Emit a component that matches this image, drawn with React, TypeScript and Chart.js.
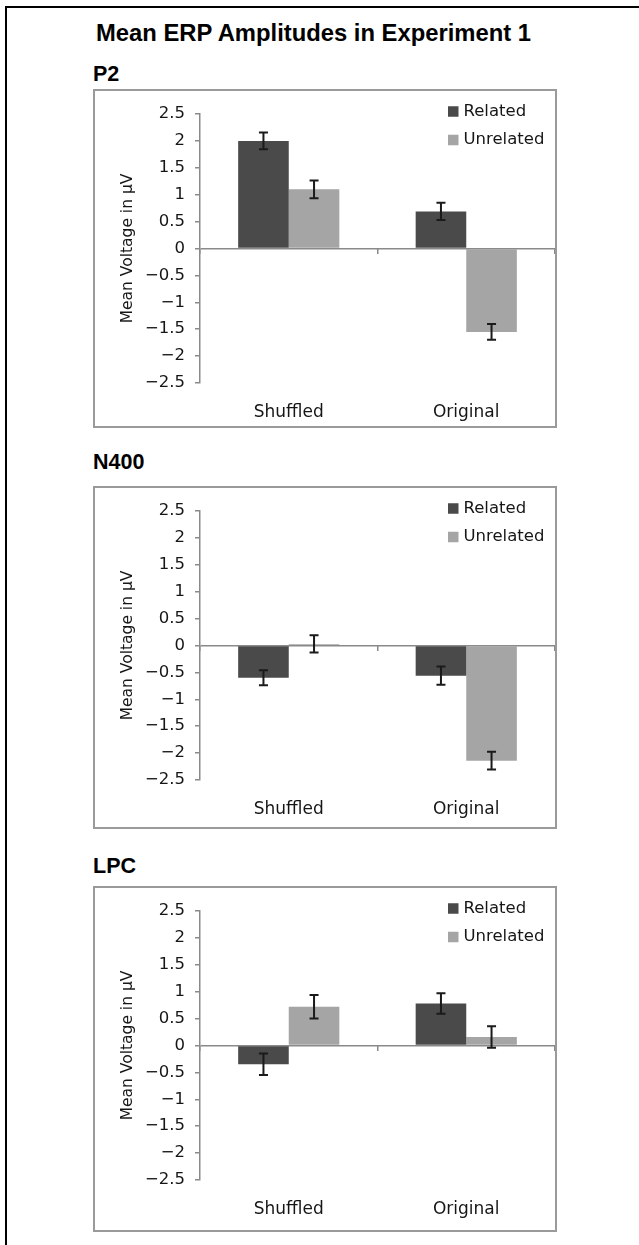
import React, { useEffect, useRef } from 'react';
import { Chart, registerables } from 'chart.js';

Chart.register(...registerables);

// ---------- data ----------
const mainTitle = 'Mean ERP Amplitudes in Experiment 1';
const panelNames = ['P2', 'N400', 'LPC'];
const categories = ['Shuffled', 'Original'];
const seriesNames = ['Related', 'Unrelated'];
const yAxisTitle = 'Mean Voltage in µV';
const yMin = -2.5;
const yMax = 2.5;
const yStep = 0.5;

const p2Related = [2.0, 0.69];
const p2RelatedErr = [0.155, 0.16];
const p2Unrelated = [1.1, -1.55];
const p2UnrelatedErr = [0.165, 0.145];

const n400Related = [-0.6, -0.56];
const n400RelatedErr = [0.14, 0.17];
const n400Unrelated = [0.03, -2.14];
const n400UnrelatedErr = [0.16, 0.165];

const lpcRelated = [-0.35, 0.78];
const lpcRelatedErr = [0.2, 0.19];
const lpcUnrelated = [0.72, 0.16];
const lpcUnrelatedErr = [0.22, 0.2];

// ---------- styles ----------
const seriesColors = ['#4a4a4a', '#a5a5a5'];
const axisGray = '#8a8a8a';
const textColor = '#161616';
const tickFont = { family: '"DejaVu Sans", Verdana, sans-serif', size: 16.5 };

const fmtTick = (v: number) => {
  if (v === 0) return '0';
  const s = String(Math.abs(v));
  return v < 0 ? '\u2212' + s : s;
};

const errorBarPlugin = {
  id: 'errorBars',
  afterDatasetsDraw(chart: any) {
    const { ctx } = chart;
    const y = chart.scales.y;
    chart.data.datasets.forEach((ds: any, i: number) => {
      const meta = chart.getDatasetMeta(i);
      meta.data.forEach((bar: any, j: number) => {
        const v = ds.data[j];
        const e = ds.errors[j];
        const yTop = y.getPixelForValue(v + e);
        const yBot = y.getPixelForValue(v - e);
        ctx.save();
        ctx.strokeStyle = '#1a1a1a';
        ctx.lineWidth = 2;
        ctx.beginPath();
        ctx.moveTo(bar.x, yTop);
        ctx.lineTo(bar.x, yBot);
        ctx.moveTo(bar.x - 4.5, yTop);
        ctx.lineTo(bar.x + 4.5, yTop);
        ctx.moveTo(bar.x - 4.5, yBot);
        ctx.lineTo(bar.x + 4.5, yBot);
        ctx.stroke();
        ctx.restore();
      });
    });
  },
};

const insideLegendPlugin = {
  id: 'insideLegend',
  afterDraw(chart: any) {
    const { ctx } = chart;
    chart.data.datasets.forEach((ds: any, i: number) => {
      const rowY = 22.5 + i * 28.5;
      ctx.save();
      ctx.fillStyle = ds.backgroundColor;
      ctx.fillRect(355, rowY - 5.25, 10.5, 10.5);
      ctx.fillStyle = textColor;
      ctx.font = `${tickFont.size}px ${tickFont.family}`;
      ctx.textBaseline = 'middle';
      ctx.textAlign = 'left';
      ctx.fillText(ds.label, 370.5, rowY);
      ctx.restore();
    });
  },
};

const PANEL_LEFT = 93;
const PANEL_WIDTH = 464;
const AREA_TOP = 25;
const AREA_HEIGHT = 269;

type PanelProps = {
  top: number;
  height: number;
  related: number[];
  relatedErr: number[];
  unrelated: number[];
  unrelatedErr: number[];
};

function Panel({ top, height, related, relatedErr, unrelated, unrelatedErr }: PanelProps) {
  const ref = useRef<HTMLCanvasElement>(null);
  useEffect(() => {
    if (!ref.current) return;
    const chart = new Chart(ref.current, {
      type: 'bar',
      data: {
        labels: categories,
        datasets: [
          { label: seriesNames[0], data: related, backgroundColor: seriesColors[0], errors: relatedErr } as any,
          { label: seriesNames[1], data: unrelated, backgroundColor: seriesColors[1], errors: unrelatedErr } as any,
        ],
      },
      options: {
        responsive: false,
        animation: false,
        devicePixelRatio: 1,
        layout: { padding: { top: AREA_TOP, right: 2, left: 0, bottom: 0 } },
        datasets: { bar: { categoryPercentage: 0.57, barPercentage: 1 } },
        plugins: { legend: { display: false }, tooltip: { enabled: false } },
        scales: {
          x: {
            type: 'category',
            position: 'bottom',
            grid: { display: false, drawTicks: false },
            border: { display: false },
            ticks: { padding: 19, font: { ...tickFont, size: 17 }, color: textColor },
            afterFit: (s: any) => {
              s.height = height - AREA_TOP - AREA_HEIGHT;
            },
          },
          x2: {
            type: 'category',
            axis: 'x',
            labels: categories,
            position: { y: 0 },
            offset: true,
            grid: { offset: true, drawOnChartArea: false, drawTicks: true, tickLength: 5, color: axisGray, lineWidth: 1.5 },
            border: { display: false },
            ticks: { display: false },
          },
          y: {
            min: yMin,
            max: yMax,
            ticks: { stepSize: yStep, padding: 10, font: tickFont, color: textColor, callback: (v: any) => fmtTick(Number(v)) },
            grid: {
              color: (c: any) => (c.tick && c.tick.value === 0 ? axisGray : 'rgba(0,0,0,0)'),
              tickColor: axisGray,
              tickLength: 5,
              lineWidth: 1.5,
            },
            border: { display: true, color: axisGray, width: 1.5 },
            title: {
              display: true,
              text: yAxisTitle,
              color: textColor,
              font: { family: tickFont.family, size: 15.5 },
              padding: { top: 26, bottom: 0 },
            },
            afterFit: (s: any) => {
              s.width = 107;
            },
          },
        } as any,
      },
      plugins: [errorBarPlugin, insideLegendPlugin],
    });
    return () => chart.destroy();
  }, []);
  return (
    <>
      <canvas
        ref={ref}
        width={PANEL_WIDTH}
        height={height}
        style={{ position: 'absolute', left: PANEL_LEFT, top, width: PANEL_WIDTH, height }}
      />
      <div
        style={{
          position: 'absolute',
          left: PANEL_LEFT,
          top,
          width: PANEL_WIDTH,
          height,
          boxSizing: 'border-box',
          border: '2px solid #9a9a9a',
          pointerEvents: 'none',
        }}
      />
    </>
  );
}

const headFont = '"Liberation Sans", Arial, sans-serif';

export default function App() {
  const sectionStyle = (top: number): React.CSSProperties => ({
    position: 'absolute',
    left: 93,
    top,
    fontFamily: headFont,
    fontWeight: 'bold',
    fontSize: 21.5,
    lineHeight: '22px',
    color: '#000',
    whiteSpace: 'nowrap',
  });
  return (
    <div
      style={{
        position: 'absolute',
        left: 0,
        top: 0,
        width: 639,
        height: 1245,
        overflow: 'hidden',
        background: '#fff',
      }}
    >
      <div
        style={{
          position: 'absolute',
          left: 5,
          top: 6,
          width: 1000,
          height: 2000,
          borderTop: '2px solid #000',
          borderLeft: '2.5px solid #000',
        }}
      />
      <div
        style={{
          position: 'absolute',
          left: 96,
          top: 22,
          fontFamily: headFont,
          fontWeight: 'bold',
          fontSize: 23.8,
          lineHeight: '22px',
          color: '#000',
          whiteSpace: 'nowrap',
        }}
      >
        {mainTitle}
      </div>
      <div style={sectionStyle(63)}>{panelNames[0]}</div>
      <Panel top={89} height={339} related={p2Related} relatedErr={p2RelatedErr} unrelated={p2Unrelated} unrelatedErr={p2UnrelatedErr} />
      <div style={sectionStyle(451)}>{panelNames[1]}</div>
      <Panel top={486} height={343} related={n400Related} relatedErr={n400RelatedErr} unrelated={n400Unrelated} unrelatedErr={n400UnrelatedErr} />
      <div style={sectionStyle(855)}>{panelNames[2]}</div>
      <Panel top={886} height={346} related={lpcRelated} relatedErr={lpcRelatedErr} unrelated={lpcUnrelated} unrelatedErr={lpcUnrelatedErr} />
    </div>
  );
}
